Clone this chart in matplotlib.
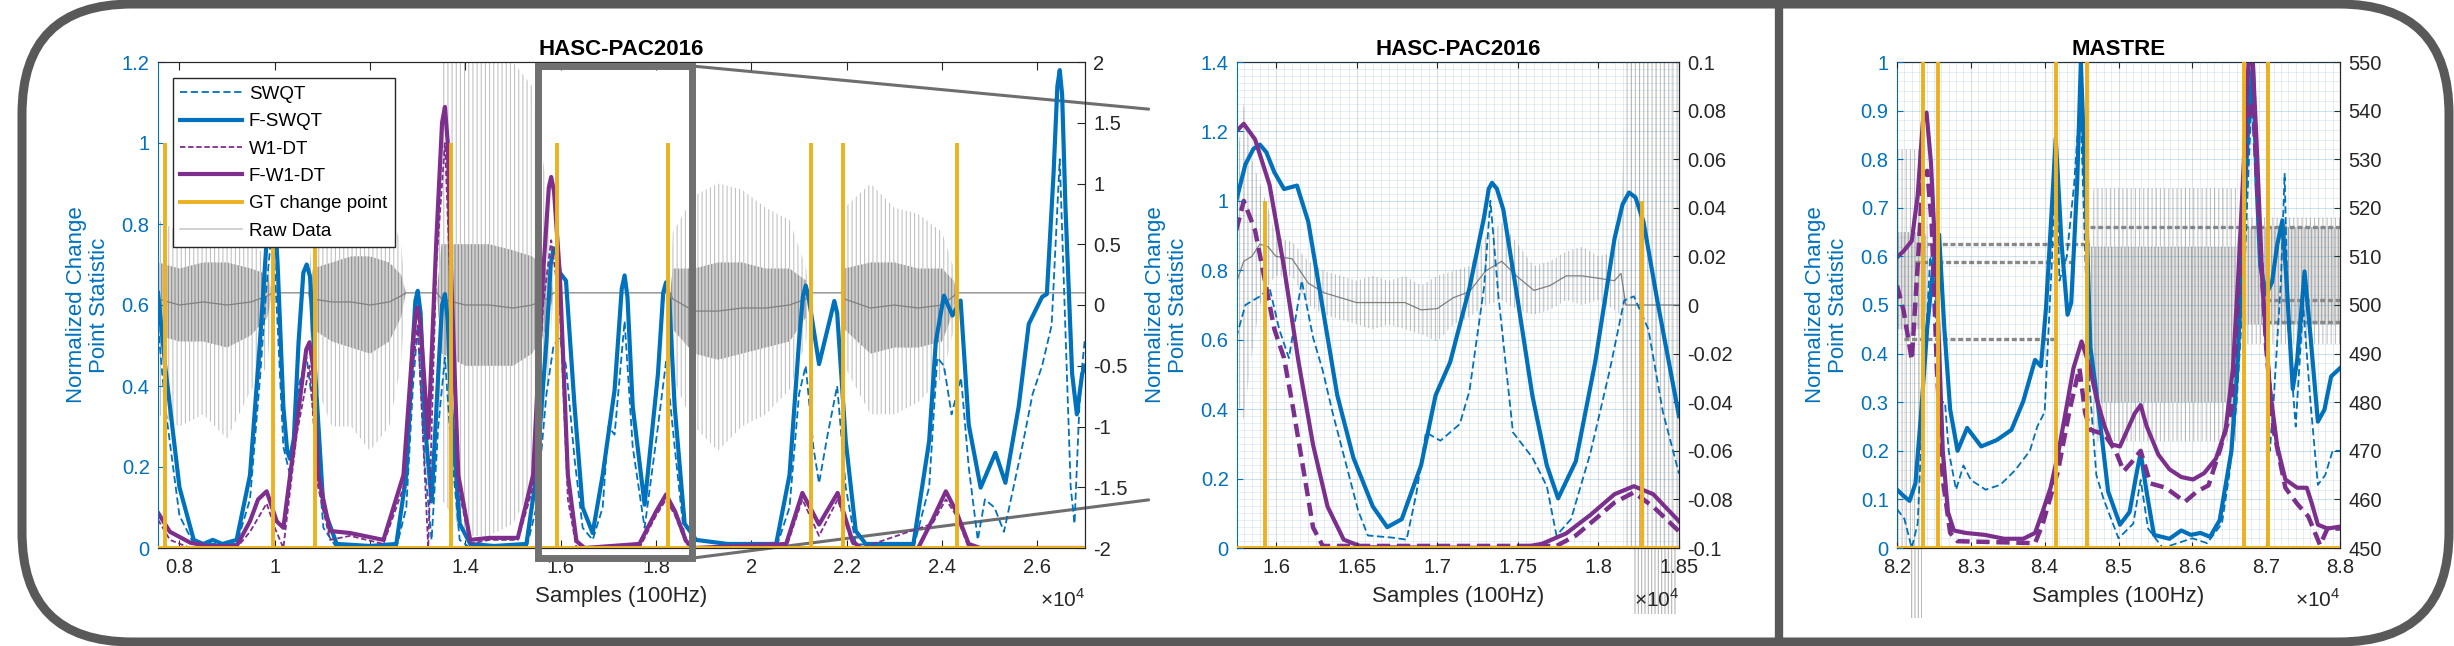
import numpy as np
import matplotlib
matplotlib.use('Agg')
import matplotlib.pyplot as plt
from matplotlib.patches import FancyBboxPatch, Rectangle, ConnectionPatch
from matplotlib.lines import Line2D
from matplotlib.ticker import MultipleLocator, FuncFormatter

plt.rcParams['font.family'] = ['Liberation Sans', 'DejaVu Sans']
plt.rcParams['mathtext.fontset'] = 'custom'
plt.rcParams['mathtext.rm'] = 'Liberation Sans'
plt.rcParams['hatch.linewidth'] = 0.8

BLUE = '#0072BD'
PURPLE = '#7E2F8E'
ORANGE = '#EDB120'
DARK = '#262626'

###########################################################################
# Donnees (x en unites de 1e4 echantillons)

# --- panneau 1 : HASC-PAC2016 vue globale
p1_fswqt_x = [0.755, 0.77, 0.80, 0.83, 0.85, 0.87, 0.89, 0.92, 0.948, 0.969, 0.983, 0.99, 0.995, 1.0, 1.006,
              1.018, 1.026, 1.032, 1.04, 1.05, 1.06, 1.067, 1.074, 1.085, 1.102, 1.13, 1.2, 1.255, 1.276, 1.29,
              1.295, 1.30, 1.306, 1.315, 1.329, 1.343, 1.351, 1.357, 1.363, 1.37, 1.388, 1.41, 1.46, 1.528,
              1.549, 1.57, 1.579, 1.585, 1.591, 1.598, 1.611, 1.629, 1.646, 1.667, 1.688, 1.713, 1.728, 1.734,
              1.740, 1.751, 1.776, 1.804, 1.815, 1.821, 1.828, 1.839, 1.86, 1.884, 1.95, 2.052, 2.08, 2.10,
              2.108, 2.114, 2.12, 2.142, 2.168, 2.174, 2.18, 2.198, 2.219, 2.24, 2.34, 2.373, 2.387, 2.404,
              2.422, 2.439, 2.456, 2.481, 2.512, 2.533, 2.561, 2.582, 2.61, 2.62, 2.634, 2.642, 2.647, 2.652,
              2.659, 2.673, 2.683, 2.694, 2.70]
p1_fswqt_y = [0.63, 0.45, 0.15, 0.02, 0.01, 0.02, 0.01, 0.02, 0.18, 0.51, 0.76, 0.84, 0.86, 0.83, 0.70,
              0.35, 0.24, 0.22, 0.27, 0.51, 0.68, 0.70, 0.67, 0.43, 0.10, 0.01, 0.005, 0.01, 0.18, 0.51,
              0.61, 0.635, 0.58, 0.305, 0.115, 0.43, 0.60, 0.627, 0.56, 0.35, 0.06, 0.01, 0.005, 0.01,
              0.18, 0.51, 0.70, 0.74, 0.73, 0.68, 0.66, 0.35, 0.10, 0.037, 0.18, 0.39, 0.64, 0.673,
              0.62, 0.35, 0.107, 0.43, 0.63, 0.656, 0.61, 0.35, 0.06, 0.02, 0.01, 0.01, 0.18, 0.51,
              0.62, 0.648, 0.62, 0.454, 0.58, 0.61, 0.58, 0.264, 0.042, 0.01, 0.01, 0.264, 0.51, 0.623,
              0.574, 0.611, 0.305, 0.149, 0.235, 0.161, 0.35, 0.553, 0.62, 0.627, 0.924, 1.14, 1.18, 1.12,
              0.842, 0.43, 0.33, 0.43, 0.45]

p1_swqt_x = [0.755, 0.77, 0.80, 0.83, 0.92, 0.948, 0.969, 0.983, 0.995, 1.006, 1.018, 1.032, 1.05, 1.067,
             1.085, 1.102, 1.13, 1.255, 1.276, 1.29, 1.30, 1.315, 1.329, 1.343, 1.357, 1.37, 1.388, 1.41,
             1.528, 1.549, 1.57, 1.585, 1.598, 1.611, 1.629, 1.646, 1.667, 1.688, 1.70, 1.713, 1.734, 1.751,
             1.776, 1.804, 1.821, 1.839, 1.86, 1.884, 2.052, 2.08, 2.10, 2.114, 2.13, 2.142, 2.16, 2.18,
             2.198, 2.219, 2.34, 2.373, 2.39, 2.404, 2.42, 2.44, 2.456, 2.475, 2.49, 2.51, 2.53, 2.55,
             2.57, 2.59, 2.61, 2.63, 2.647, 2.66, 2.67, 2.678, 2.69, 2.70]
p1_swqt_y = [0.55, 0.35, 0.08, 0.01, 0.01, 0.12, 0.42, 0.65, 0.80, 0.55, 0.25, 0.18, 0.40, 0.47,
             0.30, 0.05, 0.0, 0.0, 0.10, 0.40, 0.55, 0.20, 0.02, 0.30, 0.47, 0.25, 0.02, 0.0,
             0.0, 0.10, 0.38, 0.50, 0.52, 0.45, 0.22, 0.05, 0.02, 0.10, 0.30, 0.28, 0.56, 0.25,
             0.05, 0.30, 0.46, 0.25, 0.02, 0.0, 0.0, 0.10, 0.38, 0.45, 0.25, 0.16, 0.28, 0.40,
             0.15, 0.01, 0.0, 0.15, 0.47, 0.45, 0.33, 0.42, 0.20, 0.02, 0.12, 0.10, 0.04, 0.15,
             0.26, 0.38, 0.45, 0.55, 0.96, 0.50, 0.15, 0.06, 0.40, 0.52]

p1_fw1_x = [0.755, 0.78, 0.823, 0.86, 0.92, 0.948, 0.965, 0.983, 1.004, 1.018, 1.046, 1.066, 1.073, 1.08,
            1.091, 1.116, 1.158, 1.228, 1.27, 1.29, 1.296, 1.30, 1.306, 1.322, 1.339, 1.351, 1.357, 1.363,
            1.37, 1.385, 1.41, 1.45, 1.51, 1.542, 1.563, 1.575, 1.58, 1.586, 1.598, 1.615, 1.633, 1.65,
            1.765, 1.80, 1.821, 1.84, 1.863, 1.88, 2.073, 2.107, 2.142, 2.181, 2.212, 2.23, 2.35, 2.38,
            2.408, 2.43, 2.456, 2.48, 2.70]
p1_fw1_y = [0.087, 0.04, 0.013, 0.005, 0.005, 0.066, 0.12, 0.14, 0.066, 0.05, 0.305, 0.49, 0.508, 0.45,
            0.18, 0.042, 0.037, 0.02, 0.18, 0.51, 0.58, 0.594, 0.55, 0.272, 0.76, 1.05, 1.089, 1.0,
            0.677, 0.18, 0.02, 0.025, 0.025, 0.18, 0.677, 0.89, 0.916, 0.88, 0.677, 0.18, 0.017, 0.0,
            0.01, 0.09, 0.132, 0.09, 0.017, 0.0, 0.01, 0.136, 0.058, 0.136, 0.017, 0.0, 0.0, 0.07,
            0.14, 0.09, 0.01, 0.0, 0.0]

p1_w1_x = [0.755, 0.78, 0.823, 0.92, 0.948, 0.983, 1.0, 1.018, 1.046, 1.073, 1.091, 1.116, 1.158, 1.228,
           1.27, 1.29, 1.30, 1.322, 1.339, 1.357, 1.37, 1.385, 1.41, 1.45, 1.51, 1.542, 1.563, 1.58,
           1.598, 1.615, 1.633, 1.765, 1.80, 1.821, 1.84, 1.863, 1.88, 2.073, 2.107, 2.142, 2.181, 2.212,
           2.23, 2.38, 2.408, 2.43, 2.456, 2.70]
p1_w1_y = [0.07, 0.02, 0.0, 0.0, 0.04, 0.11, 0.05, 0.0, 0.28, 0.45, 0.15, 0.02, 0.03, 0.01,
           0.15, 0.45, 0.55, 0.0, 0.70, 1.0, 0.60, 0.15, 0.01, 0.02, 0.02, 0.15, 0.60, 0.76,
           0.60, 0.12, 0.0, 0.0, 0.08, 0.12, 0.08, 0.01, 0.0, 0.0, 0.12, 0.03, 0.12, 0.01,
           0.0, 0.06, 0.12, 0.08, 0.0, 0.0]

p1_gt = [0.769, 0.997, 1.085, 1.37, 1.592, 1.826, 2.125, 2.193, 2.431]

# donnees brutes (axe de droite) : enveloppes exterieure et interieure
p1_raw_x = [0.755, 0.80, 0.85, 0.90, 0.95, 0.985, 0.995, 1.07, 1.08, 1.12, 1.16, 1.20, 1.24, 1.265,
            1.275, 1.34, 1.35, 1.40, 1.45, 1.50, 1.54, 1.57, 1.585, 1.83, 1.835, 1.88, 1.93, 1.98,
            2.03, 2.08, 2.115, 2.12, 2.19, 2.195, 2.25, 2.30, 2.35, 2.40, 2.425, 2.43, 2.70]
p1_raw_lo = [-0.9, -1.0, -0.9, -1.1, -0.7, -0.5, 0.1, 0.1, -0.6, -1.0, -1.0, -1.2, -1.0, -0.5,
             0.1, 0.1, -1.6, -1.9, -1.9, -1.8, -1.5, -0.8, 0.1, 0.1, -0.6, -1.0, -1.2, -1.0,
             -0.9, -0.7, -0.3, 0.1, 0.1, -0.5, -0.9, -0.9, -0.8, -0.6, -0.2, 0.1, 0.1]
p1_raw_clo = [-0.25, -0.3, -0.3, -0.35, -0.25, -0.1, 0.1, 0.1, -0.2, -0.3, -0.35, -0.4, -0.3, -0.1,
              0.1, 0.1, -0.4, -0.5, -0.5, -0.5, -0.4, -0.2, 0.1, 0.1, -0.2, -0.4, -0.45, -0.4,
              -0.35, -0.3, -0.1, 0.1, 0.1, -0.2, -0.4, -0.35, -0.35, -0.3, -0.05, 0.1, 0.1]
p1_raw_chi = [0.35, 0.3, 0.35, 0.35, 0.3, 0.25, 0.1, 0.1, 0.3, 0.35, 0.4, 0.4, 0.35, 0.25,
              0.1, 0.1, 0.5, 0.5, 0.5, 0.45, 0.4, 0.3, 0.1, 0.1, 0.3, 0.3, 0.35, 0.35,
              0.3, 0.3, 0.2, 0.1, 0.1, 0.3, 0.35, 0.35, 0.3, 0.3, 0.2, 0.1, 0.1]
p1_raw_hi = [0.7, 0.6, 0.75, 0.65, 0.5, 0.4, 0.1, 0.1, 0.7, 0.9, 1.3, 1.0, 0.8, 0.5,
             0.1, 0.1, 2.0, 2.0, 2.0, 2.0, 1.8, 1.0, 0.1, 0.1, 0.6, 0.9, 1.0, 0.95,
             0.8, 0.7, 0.3, 0.1, 0.1, 0.8, 1.0, 0.8, 0.75, 0.6, 0.3, 0.1, 0.1]

# --- panneau 2 : HASC-PAC2016 zoom
p2_fswqt_x = [1.5753, 1.581, 1.586, 1.59, 1.594, 1.599, 1.605, 1.613, 1.620, 1.629, 1.638, 1.648, 1.66,
              1.669, 1.678, 1.69, 1.699, 1.708, 1.72, 1.729, 1.732, 1.734, 1.737, 1.741, 1.75, 1.759, 1.768,
              1.775, 1.786, 1.798, 1.81, 1.815, 1.819, 1.823, 1.828, 1.837, 1.85]
p2_fswqt_y = [1.0, 1.105, 1.15, 1.162, 1.14, 1.082, 1.034, 1.044, 0.94, 0.69, 0.44, 0.26, 0.12,
              0.06, 0.083, 0.238, 0.44, 0.535, 0.749, 0.951, 1.035, 1.052, 1.035, 0.975, 0.713, 0.44, 0.238,
              0.143, 0.25, 0.535, 0.891, 0.99, 1.024, 1.01, 0.939, 0.701, 0.38]

p2_swqt_x = [1.5753, 1.581, 1.59, 1.596, 1.602, 1.608, 1.616, 1.623, 1.629, 1.635, 1.645, 1.651, 1.657,
             1.672, 1.681, 1.687, 1.693, 1.702, 1.714, 1.72, 1.729, 1.733, 1.738, 1.747, 1.759, 1.768,
             1.774, 1.783, 1.795, 1.807, 1.816, 1.822, 1.831, 1.84, 1.85]
p2_swqt_y = [0.606, 0.70, 0.725, 0.749, 0.63, 0.547, 0.77, 0.606, 0.511, 0.392, 0.214, 0.107, 0.036,
             0.03, 0.024, 0.155, 0.333, 0.309, 0.357, 0.452, 0.749, 1.0, 0.725, 0.333, 0.261, 0.178,
             0.036, 0.083, 0.273, 0.511, 0.713, 0.725, 0.63, 0.392, 0.214]

p2_fw1_x = [1.5753, 1.58, 1.587, 1.596, 1.605, 1.614, 1.623, 1.632, 1.642, 1.654, 1.75, 1.765, 1.78,
            1.795, 1.81, 1.822, 1.834, 1.85]
p2_fw1_y = [1.2, 1.222, 1.177, 1.046, 0.808, 0.535, 0.297, 0.119, 0.024, 0.002, 0.0, 0.012, 0.042,
            0.095, 0.155, 0.178, 0.155, 0.077]

p2_w1_x = [1.5753, 1.58, 1.587, 1.593, 1.599, 1.605, 1.611, 1.617, 1.623, 1.629, 1.774, 1.786, 1.798,
           1.81, 1.822, 1.834, 1.85]
p2_w1_y = [0.915, 1.0, 0.915, 0.773, 0.63, 0.547, 0.392, 0.226, 0.059, 0.006, 0.006, 0.036, 0.083,
           0.131, 0.16, 0.119, 0.048]

p2_gt = [1.593, 1.827]

p2_raw_x = [1.5758, 1.580, 1.585, 1.590, 1.595, 1.600, 1.610, 1.620, 1.630, 1.640, 1.650, 1.660, 1.670,
            1.680, 1.690, 1.700, 1.710, 1.720, 1.730, 1.740, 1.750, 1.760, 1.770, 1.780, 1.790, 1.800,
            1.810, 1.814, 1.817, 1.850]
p2_raw_lo = [-0.04, -0.047, -0.02, 0.0, 0.008, 0.012, 0.012, 0.0, -0.004, -0.006, -0.008, -0.01, -0.008,
             -0.01, -0.012, -0.015, -0.008, -0.005, 0.0, 0.002, -0.002, -0.004, -0.002, 0.002, 0.0, 0.002,
             -0.002, -0.004, -0.1, -0.1]
p2_raw_hi = [0.06, 0.083, 0.06, 0.05, 0.04, 0.028, 0.026, 0.018, 0.014, 0.012, 0.01, 0.012, 0.01,
             0.012, 0.008, 0.012, 0.014, 0.016, 0.028, 0.034, 0.025, 0.016, 0.018, 0.022, 0.024, 0.02,
             0.022, 0.03, 0.1, 0.1]
# traits qui debordent sous l'axe : (debut, fin, valeur basse)
p2_raw_spill = (1.822, 1.849, -0.127)

# --- panneau 3 : MASTRE
p3_fswqt_x = [8.2, 8.209, 8.217, 8.225, 8.233, 8.241, 8.251, 8.257, 8.264, 8.272, 8.282, 8.295, 8.314,
              8.335, 8.355, 8.371, 8.387, 8.395, 8.402, 8.41, 8.415, 8.423, 8.431, 8.436, 8.444, 8.449,
              8.456, 8.462, 8.473, 8.486, 8.502, 8.515, 8.525, 8.53, 8.538, 8.548, 8.569, 8.585, 8.598,
              8.611, 8.624, 8.637, 8.653, 8.661, 8.668, 8.676, 8.682, 8.687, 8.692, 8.70, 8.708, 8.715,
              8.722, 8.728, 8.736, 8.742, 8.752, 8.76, 8.77, 8.779, 8.788, 8.8]
p3_fswqt_y = [0.12, 0.107, 0.097, 0.133, 0.285, 0.454, 0.607, 0.645, 0.454, 0.285, 0.20, 0.247, 0.209,
              0.222, 0.243, 0.302, 0.387, 0.374, 0.497, 0.708, 0.843, 0.624, 0.48, 0.505, 0.75, 1.0,
              0.708, 0.412, 0.285, 0.116, 0.048, 0.074, 0.158, 0.196, 0.116, 0.027, 0.019, 0.036, 0.027,
              0.031, 0.023, 0.057, 0.2, 0.37, 0.624, 0.877, 1.0, 0.75, 0.581, 0.522, 0.547, 0.624,
              0.674, 0.539, 0.327, 0.387, 0.569, 0.437, 0.26, 0.285, 0.353, 0.37]

p3_swqt_x = [8.2, 8.21, 8.215, 8.22, 8.228, 8.235, 8.245, 8.25, 8.255, 8.26, 8.265, 8.27, 8.28, 8.29,
             8.30, 8.32, 8.34, 8.36, 8.38, 8.39, 8.40, 8.41, 8.415, 8.42, 8.43, 8.44, 8.448, 8.455,
             8.46, 8.47, 8.48, 8.50, 8.52, 8.53, 8.54, 8.56, 8.60, 8.62, 8.64, 8.65, 8.66, 8.67, 8.68,
             8.69, 8.70, 8.705, 8.71, 8.72, 8.725, 8.73, 8.74, 8.75, 8.76, 8.77, 8.78, 8.79, 8.8]
p3_swqt_y = [0.08, 0.06, 0.03, 0.0, 0.05, 0.3, 0.6, 0.55, 0.4, 0.3, 0.3, 0.2, 0.12, 0.17,
             0.14, 0.12, 0.13, 0.16, 0.2, 0.25, 0.28, 0.6, 0.83, 0.55, 0.6, 0.75, 0.93, 0.6,
             0.35, 0.15, 0.1, 0.02, 0.05, 0.14, 0.04, 0.0, 0.02, 0.01, 0.05, 0.15, 0.3, 0.55, 0.92,
             0.7, 0.45, 0.2, 0.3, 0.55, 0.77, 0.45, 0.25, 0.5, 0.3, 0.13, 0.15, 0.2, 0.2]

p3_fw1_x = [8.2, 8.209, 8.22, 8.228, 8.235, 8.24, 8.246, 8.254, 8.262, 8.269, 8.277, 8.293, 8.319,
            8.345, 8.371, 8.387, 8.397, 8.408, 8.418, 8.429, 8.439, 8.45, 8.46, 8.47, 8.481, 8.491,
            8.502, 8.512, 8.522, 8.53, 8.538, 8.554, 8.569, 8.585, 8.601, 8.616, 8.632, 8.645, 8.655,
            8.663, 8.671, 8.676, 8.682, 8.687, 8.695, 8.705, 8.715, 8.726, 8.742, 8.755, 8.762, 8.77,
            8.783, 8.8]
p3_fw1_y = [0.598, 0.611, 0.632, 0.725, 0.877, 0.896, 0.793, 0.539, 0.2, 0.074, 0.036, 0.031, 0.027,
            0.019, 0.019, 0.031, 0.074, 0.124, 0.192, 0.285, 0.37, 0.425, 0.378, 0.31, 0.251, 0.213,
            0.209, 0.243, 0.277, 0.294, 0.251, 0.192, 0.162, 0.146, 0.141, 0.154, 0.184, 0.243, 0.37,
            0.581, 0.835, 0.996, 0.996, 0.835, 0.539, 0.327, 0.209, 0.141, 0.124, 0.124, 0.091, 0.048,
            0.04, 0.044]

p3_w1_x = [8.2, 8.209, 8.22, 8.228, 8.235, 8.241, 8.247, 8.254, 8.262, 8.272, 8.282, 8.387, 8.397,
           8.418, 8.434, 8.447, 8.455, 8.462, 8.481, 8.496, 8.507, 8.517, 8.53, 8.543, 8.564, 8.59,
           8.606, 8.622, 8.637, 8.653, 8.663, 8.674, 8.682, 8.689, 8.70, 8.71, 8.726, 8.742, 8.757,
           8.773, 8.783, 8.8]
p3_w1_y = [0.54, 0.488, 0.387, 0.581, 0.767, 0.776, 0.666, 0.37, 0.141, 0.031, 0.014, 0.01, 0.048,
           0.158, 0.285, 0.37, 0.277, 0.243, 0.234, 0.2, 0.158, 0.175, 0.2, 0.133, 0.124, 0.095,
           0.116, 0.129, 0.2, 0.285, 0.539, 0.877, 0.92, 0.708, 0.412, 0.243, 0.124, 0.091, 0.065,
           0.006, 0.04, 0.04]

p3_gt = [8.235, 8.255, 8.415, 8.457, 8.67, 8.703]

# enveloppes des donnees brutes (zones calmes : largeur nulle)
p3_raw_x = [8.2, 8.238, 8.242, 8.462, 8.466, 8.66, 8.664, 8.8]
p3_raw_lo = [450, 450, 512, 512, 472, 472, 492, 492]
p3_raw_clo = [495, 495, 512, 512, 480, 480, 496, 496]
p3_raw_chi = [515, 515, 512, 512, 512, 512, 516, 516]
p3_raw_hi = [532, 532, 512, 512, 524, 524, 518, 518]
# paliers horizontaux des donnees brutes : (debut, fin, niveau)
p3_raw_levels = [(8.21, 8.416, 493.0), (8.225, 8.443, 508.8), (8.24, 8.46, 512.5),
                 (8.461, 8.8, 516.0), (8.70, 8.8, 501.0), (8.70, 8.8, 496.5)]
p3_raw_spill = (8.217, 8.234, 435.6)

# cadre de zoom dessine sur le panneau 1
zoom_box_x = (1.552, 1.876)
zoom_box_y = (-0.025, 1.19)

###########################################################################
# Mise en page

W, H = 2454, 646
fig = plt.figure(figsize=(W / 100, H / 100), dpi=100)


def fmt(v, pos):
    return f'{round(v, 6) + 0:g}'


def make_panel(rect, xlim, ylim, ystep, rlim, rstep, xstep, title, grid=False, minors=None, tlen=5):
    ax = fig.add_axes(rect)
    axr = ax.twinx()
    ax.set_zorder(axr.get_zorder() + 1)
    ax.patch.set_visible(False)
    ax.set_xlim(*xlim)
    ax.set_ylim(*ylim)
    axr.set_ylim(*rlim)
    ax.xaxis.set_major_locator(MultipleLocator(xstep))
    ax.yaxis.set_major_locator(MultipleLocator(ystep))
    axr.yaxis.set_major_locator(MultipleLocator(rstep))
    for a in (ax, axr):
        a.xaxis.set_major_formatter(FuncFormatter(fmt))
        a.yaxis.set_major_formatter(FuncFormatter(fmt))
    ax.tick_params(axis='x', direction='in', top=True, length=tlen, color=DARK, labelcolor=DARK,
                   labelsize=14.5, pad=7)
    ax.tick_params(axis='y', direction='in', length=tlen, color=BLUE, labelcolor=BLUE, labelsize=14.5, pad=6)
    axr.tick_params(axis='y', direction='in', length=tlen, color=DARK, labelcolor=DARK, labelsize=14.5, pad=6)
    for s in ('top', 'bottom', 'right'):
        ax.spines[s].set_color(DARK)
        axr.spines[s].set_color(DARK)
    ax.spines['left'].set_color(BLUE)
    axr.spines['left'].set_visible(False)
    ax.set_title(title, fontsize=16, fontweight='bold', pad=5)
    ax.set_xlabel('Samples (100Hz)', fontsize=16, color=DARK, labelpad=7)
    ax.set_ylabel('Normalized Change\nPoint Statistic', fontsize=16, color=BLUE, linespacing=1.15)
    wpx = rect[2] * W
    ax.yaxis.set_label_coords(-48 / wpx, 0.5)
    ax.text(1.0, -0.105, r'$\times10^{4}$', transform=ax.transAxes, ha='right', va='center',
            fontsize=15, color=DARK, zorder=30)
    if grid:
        ax.xaxis.set_minor_locator(MultipleLocator(minors[0]))
        ax.yaxis.set_minor_locator(MultipleLocator(minors[1]))
        ax.tick_params(which='minor', length=0)
        ax.grid(True, which='major', axis='x', color=DARK, alpha=0.15, lw=0.8)
        ax.grid(True, which='major', axis='y', color=BLUE, alpha=0.2, lw=0.8)
        ax.grid(True, which='minor', axis='x', color=DARK, alpha=0.1, lw=0.6)
        ax.grid(True, which='minor', axis='y', color=BLUE, alpha=0.12, lw=0.6)
        ax.set_axisbelow(False)
    return ax, axr


bot = (H - 548) / H
hgt = 486 / H
ax1, ax1r = make_panel([158 / W, bot, 927 / W, hgt], (0.755, 2.70), (0, 1.2), 0.2, (-2, 2), 0.5, 0.2,
                       'HASC-PAC2016', tlen=6)
ax2, ax2r = make_panel([1237 / W, bot, 442 / W, hgt], (1.5758, 1.85), (0, 1.4), 0.2, (-0.1, 0.1), 0.02,
                       0.05, 'HASC-PAC2016', grid=True, minors=(0.005, 0.02), tlen=4)
ax3, ax3r = make_panel([1897 / W, bot, 443 / W, hgt], (8.2, 8.8), (0, 1), 0.1, (450, 550), 10, 0.1,
                       'MASTRE', grid=True, minors=(0.01, 0.02), tlen=4)


def raw_band(axr, x, lo, hi, clo=None, chi=None, midline=True, core=('#cfcfcf', '#8f8f8f')):
    # zone d'oscillation rendue par des traits verticaux serres
    axr.fill_between(x, lo, hi, facecolor='none', edgecolor='#c2c2c2', hatch='||||', lw=0)
    if clo is not None:
        axr.fill_between(x, clo, chi, facecolor=core[0], edgecolor=core[1], hatch='|||||', lw=0)
        mid = (np.array(clo) + np.array(chi)) / 2
    else:
        mid = (np.array(lo) + np.array(hi)) / 2
    if midline:
        axr.plot(x, mid, color='#808080', lw=0.9)


def raw_spill(axr, spill):
    x0, x1, low = spill
    axr.fill_between([x0, x1], [low, low], [axr.get_ylim()[0]] * 2, facecolor='none', edgecolor='#b4b4b4',
                     hatch='|||||', lw=0, clip_on=False)


def curves(ax, sx, sy, fx, fy, wx, wy, fwx, fwy, gt, w1_lw=1.3):
    l1, = ax.plot(sx, sy, color=BLUE, lw=1.3, ls=(0, (4, 2)))
    l2, = ax.plot(fx, fy, color=BLUE, lw=3.0, solid_joinstyle='round')
    l3, = ax.plot(wx, wy, color=PURPLE, lw=w1_lw, ls=(0, (3, 1.5)))
    l4, = ax.plot(fwx, fwy, color=PURPLE, lw=3.0, solid_joinstyle='round')
    ax.vlines(gt, 0, 1, color=ORANGE, lw=2.8, zorder=3)
    l5 = ax.axhline(0, color=ORANGE, lw=2.8, zorder=3)
    return [l1, l2, l3, l4, l5]


# panneau 1
raw_band(ax1r, p1_raw_x, p1_raw_lo, p1_raw_hi, p1_raw_clo, p1_raw_chi)
hs = curves(ax1, p1_swqt_x, p1_swqt_y, p1_fswqt_x, p1_fswqt_y, p1_w1_x, p1_w1_y, p1_fw1_x, p1_fw1_y, p1_gt)
raw_handle = Line2D([], [], color='#c8c8c8', lw=1.2)
leg = ax1.legend(hs + [raw_handle], ['SWQT', 'F-SWQT', 'W1-DT', 'F-W1-DT', 'GT change point', 'Raw Data'],
                 loc='upper left', bbox_to_anchor=(0.016, 0.967), borderaxespad=0, fontsize=13.5,
                 fancybox=False, framealpha=1, edgecolor=DARK, handlelength=3.3, handletextpad=0.35,
                 labelspacing=0.55, borderpad=0.4)
leg.get_frame().set_linewidth(1.0)
leg.set_zorder(20)

box = Rectangle((zoom_box_x[0], zoom_box_y[0]), zoom_box_x[1] - zoom_box_x[0], zoom_box_y[1] - zoom_box_y[0],
                fill=False, ec='#707070', lw=5, clip_on=False, zorder=15)
ax1.add_patch(box)
for ya, yb in ((zoom_box_y[1], 0.903), (zoom_box_y[0], 0.099)):
    cp = ConnectionPatch(xyA=(zoom_box_x[1], ya), coordsA=ax1.transData, xyB=(-0.2, yb), coordsB=ax2.transAxes,
                         color='#6e6e6e', lw=2.2)
    fig.add_artist(cp)

# panneau 2
raw_band(ax2r, p2_raw_x, p2_raw_lo, p2_raw_hi)
raw_spill(ax2r, p2_raw_spill)
curves(ax2, p2_swqt_x, p2_swqt_y, p2_fswqt_x, p2_fswqt_y, p2_w1_x, p2_w1_y, p2_fw1_x, p2_fw1_y, p2_gt, w1_lw=3.2)

# panneau 3
raw_band(ax3r, p3_raw_x, p3_raw_lo, p3_raw_hi, p3_raw_clo, p3_raw_chi, midline=False,
         core=('#e4e4e4', '#a6a6a6'))
raw_spill(ax3r, p3_raw_spill)
for x0, x1, lev in p3_raw_levels:
    ax3r.hlines(lev, x0, x1, color='#8a8a8a', lw=2.4, linestyles=(0, (1.5, 0.8)))
curves(ax3, p3_swqt_x, p3_swqt_y, p3_fswqt_x, p3_fswqt_y, p3_w1_x, p3_w1_y, p3_fw1_x, p3_fw1_y, p3_gt, w1_lw=3.2)

# cadre arrondi et separation
frame = FancyBboxPatch((0.22, 0.04), 24.27, 6.38, boxstyle='round,pad=0,rounding_size=1.1',
                       transform=fig.dpi_scale_trans, fill=False, ec='#595959', lw=6.5)
fig.add_artist(frame)
fig.add_artist(Line2D([17.79, 17.79], [0.04, 6.42], transform=fig.dpi_scale_trans, color='#595959', lw=6))

fig.savefig('out.png', dpi=100)
